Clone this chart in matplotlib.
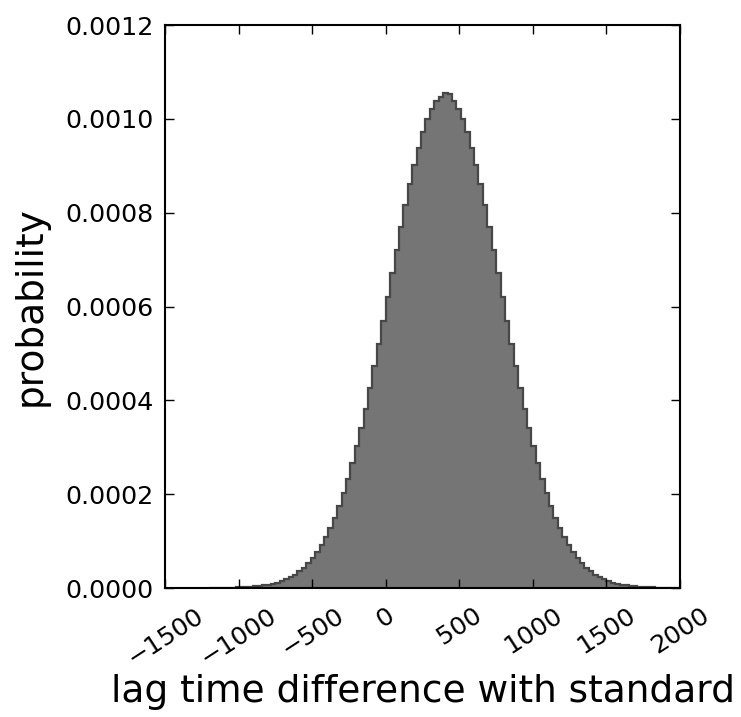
import numpy as np
import matplotlib
matplotlib.use("Agg")
import matplotlib.pyplot as plt
from matplotlib.ticker import FormatStrFormatter

# Histogram: bins 30 wide, first bin starts at -1200
bin_start = -1200
bin_width = 30
# density per bin, in units of 1e-4
density_e4 = [
    0.002, 0.002, 0.003, 0.004, 0.006, 0.008, 0.011, 0.014, 0.019, 0.025,
    0.033, 0.043, 0.056, 0.072, 0.092, 0.117, 0.147, 0.185, 0.231, 0.286,
    0.353, 0.432, 0.526, 0.636, 0.764, 0.912, 1.083, 1.277, 1.497, 1.744,
    2.020, 2.323, 2.657, 3.019, 3.409, 3.826, 4.267, 4.729, 5.208, 5.701,
    6.201, 6.704, 7.202, 7.689, 8.157, 8.602, 9.013, 9.386, 9.713, 9.989,
    10.210, 10.370, 10.467, 10.560, 10.520, 10.370, 10.210, 9.989, 9.713, 9.386,
    9.013, 8.602, 8.157, 7.689, 7.202, 6.704, 6.201, 5.701, 5.208, 4.729,
    4.267, 3.826, 3.409, 3.019, 2.657, 2.323, 2.020, 1.744, 1.497, 1.277,
    1.083, 0.912, 0.764, 0.636, 0.526, 0.432, 0.353, 0.286, 0.231, 0.185,
    0.147, 0.117, 0.092, 0.072, 0.056, 0.043, 0.033, 0.025, 0.019, 0.014,
    0.011, 0.008, 0.006, 0.004, 0.003, 0.002, 0.002,
]
xticks = [-1500, -1000, -500, 0, 500, 1000, 1500, 2000]
yticks = [0.0, 0.0002, 0.0004, 0.0006, 0.0008, 0.0010, 0.0012]

density = np.array(density_e4) * 1e-4
edges = bin_start + bin_width * np.arange(len(density) + 1)

fig = plt.figure(figsize=(7.41, 7.17), dpi=100)
ax = fig.add_axes([0.2227, 0.1799, 0.695, 0.7852])

# fill + dark outline, like a stepfilled hist with alpha
ax.stairs(density, edges, fill=True, color="black", alpha=0.54, linewidth=0)
ax.stairs(density, edges, color="#474747", linewidth=1.6)

ax.set_xlim(-1500, 2000)
ax.set_ylim(0, 0.0012)
ax.set_xticks(xticks)
ax.set_yticks(yticks)
ax.yaxis.set_major_formatter(FormatStrFormatter("%.4f"))

for s in ax.spines.values():
    s.set_linewidth(1.5)
ax.tick_params(direction="in", top=True, right=True, length=6.5, width=1.0,
               labelsize=18.3, pad=8)
ax.tick_params(axis="x", pad=11)
for lab in ax.get_xticklabels():
    lab.set_rotation(33)
    lab.set_ha("center")

ax.set_xlabel("lag time difference with standard", fontsize=27, labelpad=3)
ax.set_ylabel("probability", fontsize=27, labelpad=12)

fig.savefig("out.png", dpi=100)
